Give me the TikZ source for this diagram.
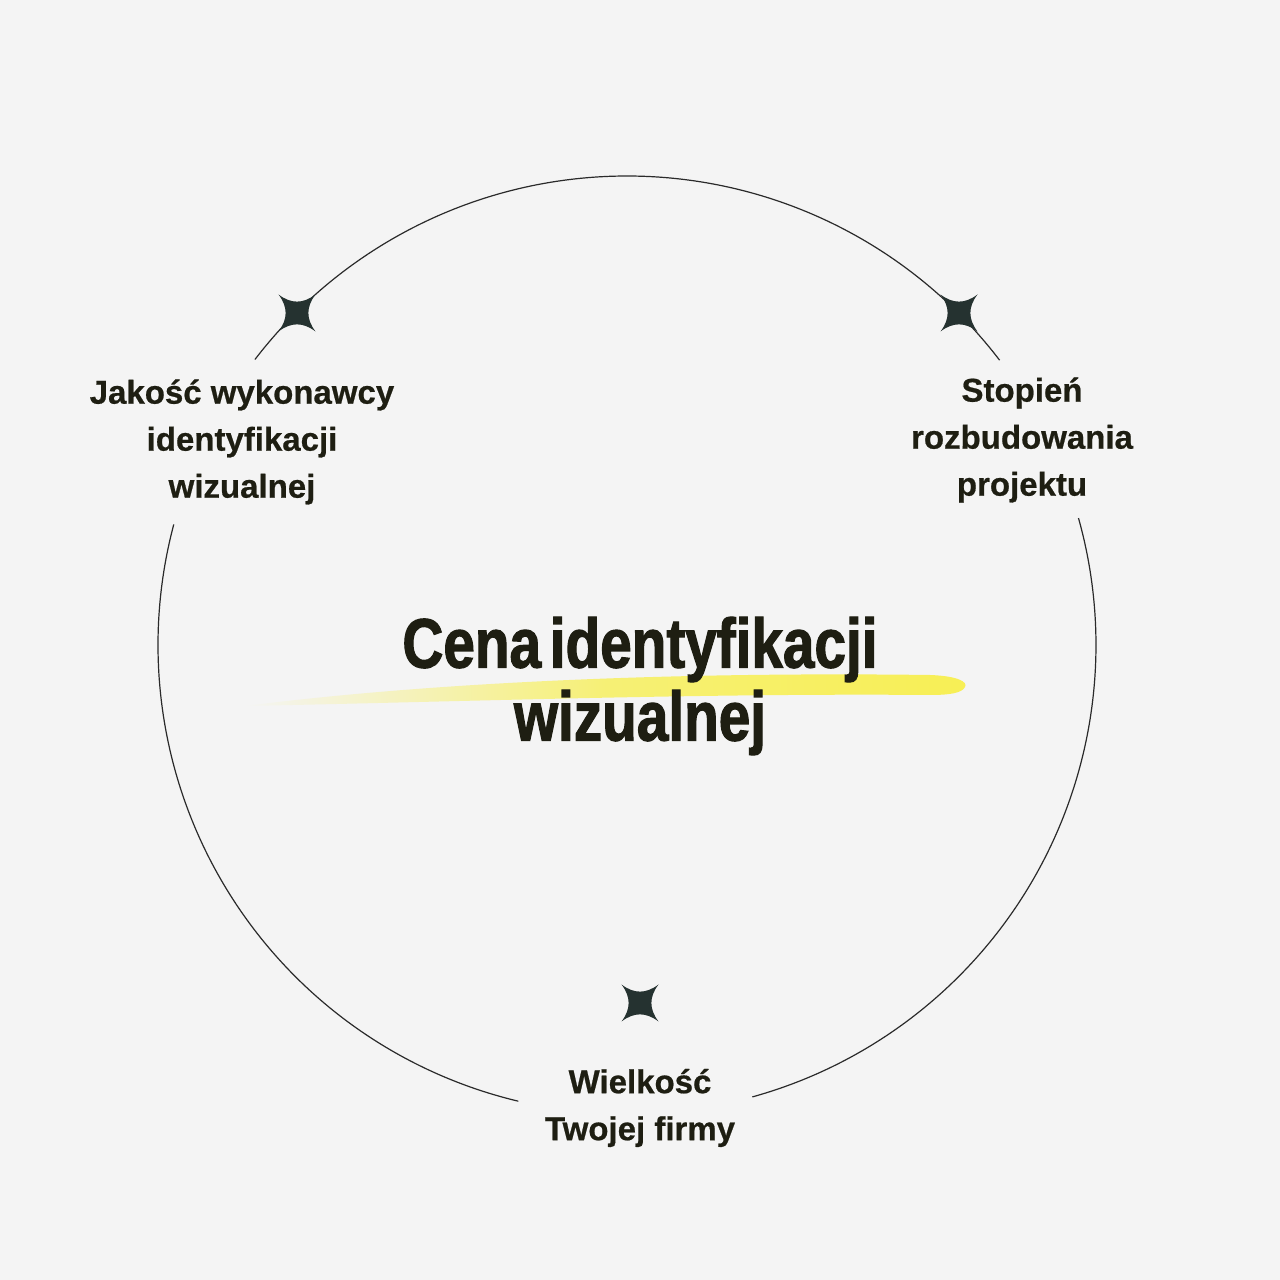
\documentclass[tikz,border=0pt]{standalone}
\usepackage{fontspec}
\usetikzlibrary{calc}
\setmainfont{Liberation Sans}[FakeBold=0.6]
\newfontfamily\titlefont{Liberation Sans}[FakeStretch=0.81, FakeBold=1.6]
\definecolor{bg}{HTML}{F4F4F4}
\definecolor{ink}{HTML}{1E1E12}
\definecolor{starc}{HTML}{253230}
\definecolor{ring}{HTML}{2A2A2A}
\definecolor{hl}{HTML}{F7EF55}
\tikzset{
  ringline/.style={draw=ring, line width=0.6pt},
  label/.style={align=center, text=ink, font=\fontsize{16.5}{23.5}\selectfont\bfseries},
  title/.style={align=center, text=ink, font=\titlefont\fontsize{35}{36.5}\selectfont\bfseries},
  sparkle/.style={fill=starc, draw=none}
}
\newcommand{\sparkleat}[1]{%
  \fill[sparkle, shift={(#1)}] (18.5,18.5) .. controls (6,9) and (-6,9) .. (-18.5,18.5)
     .. controls (-9,6) and (-9,-6) .. (-18.5,-18.5)
     .. controls (-6,-9) and (6,-9) .. (18.5,-18.5)
     .. controls (9,-6) and (9,6) .. cycle;}
\begin{document}
\begin{tikzpicture}[x=0.5pt, y=0.5pt]
\fill[bg] (0,0) rectangle (1280,1280);
\useasboundingbox (0,0) rectangle (1280,1280);
\coordinate (c) at (627,635);
% ring arcs
\draw[ringline] ($(c)+(37.4:469)$) arc[start angle=37.4, end angle=142.5, radius=469];
\draw[ringline] ($(c)+(165.1:469)$) arc[start angle=165.1, end angle=256.6, radius=469];
\draw[ringline] ($(c)+(-74.5:469)$) arc[start angle=-74.5, end angle=15.7, radius=469];
% stars
\coordinate (s1) at (297,967);
\coordinate (s2) at (959,967);
\coordinate (s3) at (640,277);
\sparkleat{s1}
\sparkleat{s2}
\sparkleat{s3}
% highlight stroke
\shade[left color=bg, right color=hl, middle color=hl!80!bg, draw=none]
  (245,574) .. controls (450,600) and (700,608) .. (930,605)
  .. controls (958,604) and (968,598) .. (965,593)
  .. controls (962,587) and (950,585) .. (930,585)
  .. controls (700,587) and (450,578) .. (245,574) -- cycle;
% texts
\node[title] (t) at (640,594) {Cena\hspace{-0.1em}\ identyfikacji\\wizualnej};
\node[label] (l1) at (242,838) {Jakość wykonawcy\\identyfikacji\\wizualnej};
\node[label] (l2) at (1022,840) {Stopień\\rozbudowania\\projektu};
\node[label] (l3) at (640,172) {Wielkość\\Twojej firmy};
\end{tikzpicture}
\end{document}
